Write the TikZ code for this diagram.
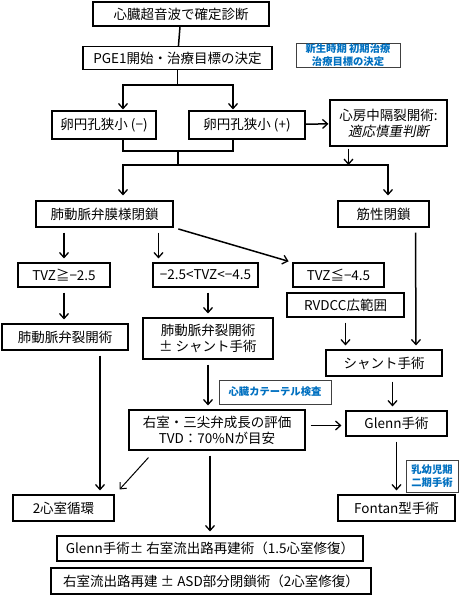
\documentclass[tikz,border=0pt]{standalone}
\usepackage{fontspec}
\setmainfont{Noto Sans CJK JP}
\newfontfamily\slantjp[FakeSlant=0.2]{Noto Sans CJK JP}
\usepackage{tikz}
\usetikzlibrary{arrows.meta, positioning, calc}
\definecolor{noteblue}{RGB}{0,112,192}

\tikzset{
    box/.style={draw, line width=1.1pt, inner sep=0pt, align=center, font=\fontsize{13.5}{16}\selectfont},
    note/.style={draw=black!75, line width=0.8pt, inner sep=0pt, align=center, text=noteblue, font=\fontsize{10.3}{12.5}\selectfont\bfseries},
    wire/.style={line width=1.5pt},
    arr/.style={line width=1.5pt, -{Straight Barb[length=5pt, width=9pt, line width=1.3pt]}},
    gap/.style={shorten <=5pt, shorten >=4pt}
}

\begin{document}
\begin{tikzpicture}[x=1pt, y=-1pt]
    \useasboundingbox (0,0) rectangle (468,595);

    % top of the chart
    \node[box, minimum width=176pt, minimum height=24pt] (echo) at (181,14) {心臓超音波で確定診断};
    \node[box, minimum width=189pt, minimum height=23pt] (pge) at (177.5,58) {PGE1開始・治療目標の決定};
    \node[note, minimum width=104pt, minimum height=24pt] (neo) at (348,55) {新生時期 初期治療\\治療目標の決定};

    \node[box, minimum width=104pt, minimum height=28pt] (fominus) at (104,125) {卵円孔狭小 (−)};
    \node[box, minimum width=116pt, minimum height=28pt] (foplus) at (247,125) {卵円孔狭小 (+)};
    \node[box, minimum width=117pt, minimum height=46pt] (bas) at (388.5,123) {心房中隔裂開術:\\{\slantjp 適応慎重判断}};

    % type of atresia
    \node[box, minimum width=137pt, minimum height=26pt] (memb) at (104.5,214) {肺動脈弁膜様閉鎖};
    \node[box, minimum width=91pt, minimum height=26pt] (musc) at (383.5,214) {筋性閉鎖};

    \node[box, minimum width=92pt, minimum height=24pt] (tvzhi) at (64,275) {TVZ≧−2.5};
    \node[box, minimum width=105pt, minimum height=24pt] (tvzmid) at (205.5,275) {−2.5<TVZ<−4.5};
    \node[box, minimum width=91pt, minimum height=24pt] (tvzlo) at (338.5,275) {TVZ≦−4.5};
    \node[box, minimum width=117pt, minimum height=24pt] (rvdcc) at (345.5,305) {RVDCC広範囲};

    % procedures
    \node[box, minimum width=126pt, minimum height=26pt] (valv) at (65,337) {肺動脈弁裂開術};
    \node[box, minimum width=130pt, minimum height=41pt] (valvsh) at (208,338.5) {肺動脈弁裂開術\\± シャント手術};
    \node[box, minimum width=116pt, minimum height=26pt] (shunt) at (384,363) {シャント手術};
    \node[note, minimum width=112pt, minimum height=24pt] (cath) at (275,392) {心臓カテーテル検査};
    \node[box, minimum width=176pt, minimum height=40pt] (eval) at (217,430) {右室・三尖弁成長の評価\\TVD：70\%Nが目安};
    \node[box, minimum width=101pt, minimum height=25pt] (glenn) at (396.5,423.5) {Glenn手術};
    \node[note, minimum width=52pt, minimum height=32pt] (infant) at (432,476) {乳幼児期\\二期手術};

    % outcomes
    \node[box, minimum width=101pt, minimum height=26pt] (biv) at (63.5,508) {2心室循環};
    \node[box, minimum width=117pt, minimum height=26pt] (fontan) at (396.5,508) {Fontan型手術};
    \node[box, minimum width=306pt, minimum height=25pt] (onehalf) at (210,548.5) {Glenn手術± 右室流出路再建術（1.5心室修復）};
    \node[box, minimum width=320pt, minimum height=26pt] (twov) at (211,581) {右室流出路再建 ± ASD部分閉鎖術（2心室修復）};

    % connectors
    \coordinate (j1) at (177.5,85);
    \coordinate (j2) at (178,151);
    \coordinate (j3) at (178,165);
    \coordinate (gin) at ([yshift=-2]glenn.west);
    \draw[wire] (echo) -- (pge);
    \draw[wire] (pge) -- (j1);
    \draw[arr, shorten >=1pt] (j1) -| ([xshift=19]fominus.north);
    \draw[arr, shorten >=1pt] (j1) -| ([xshift=-14]foplus.north);
    \draw[arr, shorten >=1pt] (foplus) -- (bas);
    \draw[wire] ([xshift=19]fominus.south) |- (j2);
    \draw[wire] ([xshift=-14]foplus.south) |- (j2);
    \draw[wire] (j2) -- (j3);
    \draw[arr, shorten >=5pt] (j3) -| ([xshift=18.5]memb.north);
    \draw[arr, shorten >=5pt] (j3) -| ([xshift=4.5]musc.north);
    \draw[arr, shorten <=2pt] ([xshift=-40]bas.south) -- ([xshift=-40]bas.south |- j3);

    \draw[arr, gap] (tvzhi.north |- memb.south) -- (tvzhi.north);
    \draw[arr, gap] ([xshift=-47]tvzmid.north |- memb.south) -- ([xshift=-47]tvzmid.north);
    \draw[arr, gap] (memb.south east) -- (tvzlo.north west);
    \draw[arr, gap] ([xshift=32]musc.south) -- ([xshift=32]shunt.north);

    \draw[arr, gap] (tvzhi.south) -- (tvzhi.south |- valv.north);
    \draw[arr, gap] (valvsh.north |- tvzmid.south) -- (valvsh.north);
    \draw[arr, gap] (rvdcc.south) -- (rvdcc.south |- shunt.north);
    \draw[arr, gap] ([xshift=-4]glenn.north |- shunt.south) -- ([xshift=-4]glenn.north);
    \draw[arr, gap] (valvsh.south) -- (valvsh.south |- eval.north);
    \draw[arr, gap] (eval.east |- gin) -- (gin);

    \draw[arr, gap] ([xshift=35]valv.south) -- ([xshift=35]valv.south |- biv.north);
    \draw[line width=1pt, -{Straight Barb[length=5pt, width=9pt, line width=1pt]}]
        ([shift={(20,7)}]eval.south west) -- ([shift={(5,-5)}]biv.north east);
    \draw[arr, gap] (onehalf.north |- eval.south) -- (onehalf.north);
    \draw[arr, gap] (glenn.south) -- (fontan.north);
\end{tikzpicture}
\end{document}
